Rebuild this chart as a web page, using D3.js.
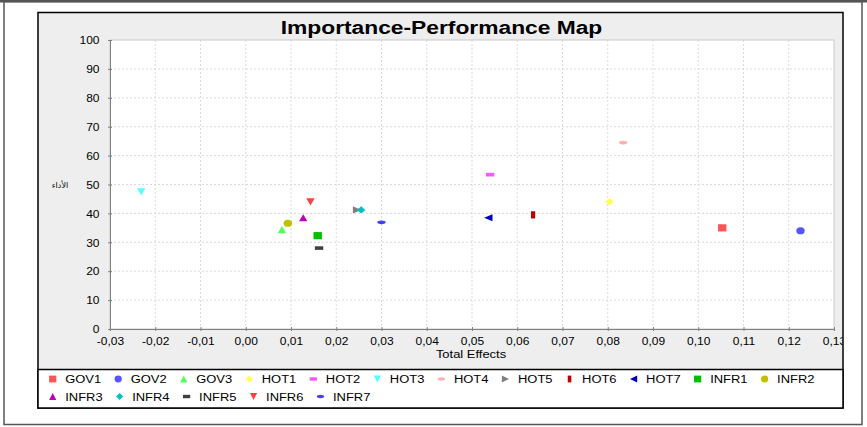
<!DOCTYPE html>
<html><head><meta charset="utf-8">
<script src="https://cdn.jsdelivr.net/npm/d3@7"></script>
<style>
body{margin:0;background:#fff}
svg{display:block}
text{font-family:"Liberation Sans",Arial,sans-serif;fill:#000}
</style>
</head><body>
<svg id="c" width="867" height="427"></svg>
<script>
// ---------------- data ----------------
const seriesNames = ["GOV1","GOV2","GOV3","HOT1","HOT2","HOT3","HOT4","HOT5","HOT6","HOT7","INFR1","INFR2","INFR3","INFR4","INFR5","INFR6","INFR7"];
const totalEffects = [0.1053, 0.1226, 0.0080, 0.0804, 0.0540, -0.0231, 0.0834, 0.0246, 0.0635, 0.0536, 0.0159, 0.0093, 0.0127, 0.0255, 0.0162, 0.0143, 0.0300];
const performance  = [35.0, 34.0, 34.4, 44.0, 53.4, 47.5, 64.5, 41.2, 39.5, 38.5, 32.3, 36.6, 38.5, 41.2, 28.0, 44.0, 36.9];
const xTicks = [-0.03,-0.02,-0.01,0.00,0.01,0.02,0.03,0.04,0.05,0.06,0.07,0.08,0.09,0.10,0.11,0.12,0.13];
const yTicks = [0,10,20,30,40,50,60,70,80,90,100];
const chartTitle = "Importance-Performance Map";
const xTitle = "Total Effects";
const yTitle = "الأداء";

// ---------------- styles ----------------
const palette = ["#ff5555","#5555ff","#55ff55","#ffff55","#ff55ff","#55ffff","#ffafaf","#808080","#c00000","#0000c0","#00c000","#c0c000","#c000c0","#00c0c0","#404040","#ff4040","#4040ff"];
const shapeCycle = ["square","circle","up","diamond","hrect","down","hellipse","right","vrect","left"];
const SX = 1.2; // horizontal stretch of the original rendering

function shapePath(kind, hx, hy){
  const p = d3.path();
  switch(kind){
    case "square": p.rect(-hx,-hy,2*hx,2*hy); break;
    case "hrect": p.rect(-hx,-hy/2,2*hx,hy); break;
    case "vrect": p.rect(-hx/2,-hy,hx,2*hy); break;
    case "up": p.moveTo(0,-hy); p.lineTo(hx,hy); p.lineTo(-hx,hy); p.closePath(); break;
    case "down": p.moveTo(-hx,-hy); p.lineTo(hx,-hy); p.lineTo(0,hy); p.closePath(); break;
    case "right": p.moveTo(-hx,-hy); p.lineTo(hx,0); p.lineTo(-hx,hy); p.closePath(); break;
    case "left": p.moveTo(-hx,0); p.lineTo(hx,-hy); p.lineTo(hx,hy); p.closePath(); break;
    case "diamond": p.moveTo(0,-hy); p.lineTo(hx,0); p.lineTo(0,hy); p.lineTo(-hx,0); p.closePath(); break;
    default: return null;
  }
  return p.toString();
}
function drawShape(g, kind, hx, hy, color){
  if(kind==="circle") return g.append("ellipse").attr("rx",hx).attr("ry",hy).attr("fill",color);
  if(kind==="hellipse") return g.append("ellipse").attr("rx",hx).attr("ry",hy/2).attr("fill",color);
  return g.append("path").attr("d",shapePath(kind,hx,hy)).attr("fill",color);
}

const svg = d3.select("#c");
const locale = d3.formatLocale({decimal:",",thousands:".",grouping:[3],currency:["",""],minus:"-"});
const fx = locale.format(".2f");
const fy = locale.format("d");

// outer frame
svg.append("rect").attr("x",0).attr("y",0).attr("width",867).attr("height",2.5).attr("fill","#555");
svg.append("rect").attr("x",4).attr("y",1.5).attr("width",858).attr("height",423)
   .attr("fill","none").attr("stroke","#555").attr("stroke-width",1.5);

// chart panel
const panel = {x:38,y:12.5,w:805,h:395.5};
svg.append("rect").attr("x",panel.x).attr("y",panel.y).attr("width",panel.w).attr("height",panel.h)
   .attr("fill","#eeeeee");
svg.append("defs").append("clipPath").attr("id","pclip").append("rect")
   .attr("x",panel.x).attr("y",panel.y).attr("width",panel.w-0.5).attr("height",panel.h);

// plot area
const plot = {l:110,r:834,t:40,b:329};
const x = d3.scaleLinear().domain([xTicks[0], xTicks[xTicks.length-1]]).range([plot.l, plot.r]);
const y = d3.scaleLinear().domain([yTicks[0], yTicks[yTicks.length-1]]).range([plot.b, plot.t]);

svg.append("rect").attr("x",plot.l).attr("y",plot.t).attr("width",plot.r-plot.l).attr("height",plot.b-plot.t)
   .attr("fill","#fff").attr("stroke","#c8c8c8").attr("stroke-width",1);

// grid
const grid = svg.append("g").attr("stroke","#d0d0d0").attr("stroke-width",0.8).attr("stroke-dasharray","2,2");
grid.selectAll(".gx").data(xTicks.slice(1,-1)).enter().append("line")
  .attr("x1",d=>x(d)).attr("x2",d=>x(d)).attr("y1",plot.t).attr("y2",plot.b);
grid.selectAll(".gy").data(yTicks.slice(1,-1)).enter().append("line")
  .attr("y1",d=>y(d)).attr("y2",d=>y(d)).attr("x1",plot.l).attr("x2",plot.r);

// axes
const xAxisG = svg.append("g").attr("clip-path","url(#pclip)").append("g").attr("transform",`translate(0,${plot.b})`)
  .call(d3.axisBottom(x).tickValues(xTicks).tickFormat(fx).tickSizeOuter(0).tickSize(2));
const yAxisG = svg.append("g").attr("transform",`translate(${plot.l},0)`)
  .call(d3.axisLeft(y).tickValues(yTicks).tickFormat(fy).tickSizeOuter(0).tickSize(2));
[xAxisG,yAxisG].forEach(g=>{
  g.select(".domain").attr("stroke","#808080");
  g.selectAll(".tick line").attr("stroke","#808080");
  g.attr("font-family",null).attr("font-size",null);
});
xAxisG.selectAll(".tick line").attr("y1",-2).attr("y2",2);
yAxisG.selectAll(".tick line").attr("x1",2).attr("x2",-2);
xAxisG.selectAll(".tick text").attr("y",null).attr("dy",null).attr("fill","#222")
  .style("font-size","10px").attr("text-anchor","middle")
  .attr("transform",`translate(0,15.5) scale(${SX},1)`);
yAxisG.selectAll(".tick text").attr("x",null).attr("dy",null).attr("fill","#222")
  .style("font-size","10px").attr("text-anchor","end")
  .attr("transform",`translate(-10.5,3.7) scale(${SX},1)`);

// titles
svg.append("text").attr("transform",`translate(441.5,34) scale(${SX},1)`)
  .attr("text-anchor","middle").style("font-size","19px").style("font-weight","bold").text(chartTitle);
svg.append("text").attr("transform",`translate(471,357.5) scale(${SX},1)`)
  .attr("text-anchor","middle").style("font-size","10.8px").attr("fill","#222").text(xTitle);
svg.append("text").attr("transform",`translate(60,188)`)
  .attr("text-anchor","middle").style("font-size","8px").style("font-family","'DejaVu Sans',sans-serif")
  .attr("fill","#333").text(yTitle);

// points
const HX = 4.2, HY = 3.6;
const pts = svg.append("g");
seriesNames.forEach((name,i)=>{
  const g = pts.append("g").attr("transform",`translate(${x(totalEffects[i])},${y(performance[i])})`);
  drawShape(g, shapeCycle[i % shapeCycle.length], HX, HY, palette[i]);
});

// panel border (on top so clipped labels meet it)
svg.append("rect").attr("x",panel.x).attr("y",panel.y).attr("width",panel.w).attr("height",panel.h)
   .attr("fill","none").attr("stroke","#000").attr("stroke-width",1.5);

// legend
const legTop = 369.5;
svg.append("rect").attr("x",panel.x).attr("y",legTop).attr("width",panel.w).attr("height",panel.y+panel.h-legTop)
   .attr("fill","#fff").attr("stroke","#000").attr("stroke-width",1.5);
const leg = svg.append("g");
let lx = 52.7, row = 0;
const rowY = [379, 396.5];
seriesNames.forEach((name,i)=>{
  const g = leg.append("g");
  const t = g.append("text").style("font-size","10.8px").attr("fill","#111").text(name);
  const w = t.node().getComputedTextLength()*SX;
  if(lx + 12.5 + w > 840){ row++; lx = 52.7; }
  t.attr("transform",`translate(${lx+12.5},${rowY[row]+4.2}) scale(${SX},1)`);
  const sg = g.append("g").attr("transform",`translate(${lx},${rowY[row]})`);
  drawShape(sg, shapeCycle[i % shapeCycle.length], 3.6, 3.4, palette[i]);
  lx += 12.5 + w + 17;
});
</script>
</body></html>
